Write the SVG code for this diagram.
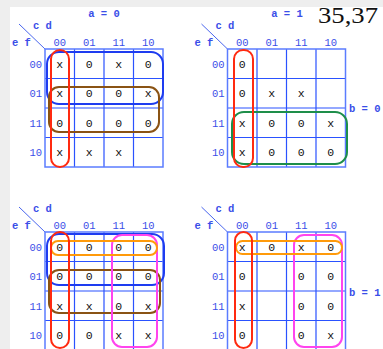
<svg xmlns="http://www.w3.org/2000/svg" width="383" height="349" viewBox="0 0 383 349">
<style>
.hd{font-family:"Liberation Mono",monospace;font-size:10.5px;fill:#3a4ee8;font-weight:bold}
.lb{font-family:"Liberation Mono",monospace;font-size:10.5px;fill:#3a4ee8}
.v{font-family:"Liberation Mono",monospace;font-size:11.5px;fill:#111;text-anchor:middle}
.grid{fill:none;stroke:#2a52ff;stroke-width:1.2}
.outer{fill:none;stroke:#5b7cff;stroke-width:1.5}
.loop{fill:none;stroke-width:2}
.red{stroke:#ff2a10}.blue{stroke:#1e3cf0}.brown{stroke:#8a5314}.green{stroke:#1e8e4a}.orange{stroke:#ff9a0a}.mag{stroke:#ff44ee}
</style>
<defs>
<g id="frame">
<line x1="0" y1="0" x2="-26" y2="-25" stroke="#4a66ee" stroke-width="1"/>
<text class="hd" x="-12" y="-20">c d</text>
<text class="hd" x="-33" y="-3">e f</text>
<g class="lb" text-anchor="middle">
<text x="14.75" y="-3">00</text><text x="44.25" y="-3">01</text><text x="73.75" y="-3">11</text><text x="103.25" y="-3">10</text>
</g>
<g class="lb" text-anchor="end">
<text x="-3" y="18.5">00</text><text x="-3" y="48">01</text><text x="-3" y="77.5">11</text><text x="-3" y="107">10</text>
</g>
<path class="grid" d="M29.5 0V118M59 0V118M88.5 0V118M0 29.5H118M0 59H118M0 88.5H118"/>
<rect class="outer" x="0" y="0" width="118" height="118"/>
</g>
</defs>
<rect width="383" height="349" fill="#fff"/>
<rect x="0" y="0" width="383" height="7" fill="#eeeeee"/>
<rect x="0" y="0" width="10" height="349" fill="#eeeeee"/>
<text class="hd" x="104" y="17" text-anchor="middle">a = 0</text>
<text class="hd" x="287" y="17" text-anchor="middle">a = 1</text>
<text x="318" y="22.5" font-family="Liberation Serif,serif" font-size="24" fill="#111" textLength="60" lengthAdjust="spacingAndGlyphs">35,37</text>
<text class="hd" x="349" y="112">b = 0</text>
<text class="hd" x="349" y="296">b = 1</text>

<g id="map-a0-b0" transform="translate(45,49)">
<use href="#frame"/>
<g class="v">
<text x="14.75" y="18.5">x</text><text x="44.25" y="18.5">0</text><text x="73.75" y="18.5">x</text><text x="103.25" y="18.5">0</text>
<text x="14.75" y="48">x</text><text x="44.25" y="48">0</text><text x="73.75" y="48">0</text><text x="103.25" y="48">x</text>
<text x="14.75" y="77.5">0</text><text x="44.25" y="77.5">0</text><text x="73.75" y="77.5">0</text><text x="103.25" y="77.5">0</text>
<text x="14.75" y="107">x</text><text x="44.25" y="107">x</text><text x="73.75" y="107">x</text>
</g>
<g id="loops-a0-b0">
<rect class="loop blue" x="2" y="3" width="116" height="52" rx="12"/>
<rect class="loop brown" x="4" y="38" width="110" height="45" rx="10"/>
<rect class="loop red" x="6" y="1" width="18" height="117" rx="9"/>
</g>
</g>

<g id="map-a1-b0" transform="translate(227.5,49)">
<use href="#frame"/>
<g class="v">
<text x="14.75" y="18.5">0</text>
<text x="14.75" y="48">0</text><text x="44.25" y="48">x</text><text x="73.75" y="48">x</text>
<text x="14.75" y="77.5">x</text><text x="44.25" y="77.5">0</text><text x="73.75" y="77.5">0</text><text x="103.25" y="77.5">x</text>
<text x="14.75" y="107">x</text><text x="44.25" y="107">0</text><text x="73.75" y="107">0</text><text x="103.25" y="107">0</text>
</g>
<g id="loops-a1-b0">
<rect class="loop green" x="4.5" y="63" width="115" height="52" rx="12"/>
<rect class="loop red" x="6.5" y="1" width="19" height="117" rx="9"/>
</g>
</g>

<g id="map-a0-b1" transform="translate(45,232)">
<use href="#frame"/>
<g class="v">
<text x="14.75" y="18.5">0</text><text x="44.25" y="18.5">0</text><text x="73.75" y="18.5">0</text><text x="103.25" y="18.5">0</text>
<text x="14.75" y="48">0</text><text x="44.25" y="48">0</text><text x="73.75" y="48">0</text><text x="103.25" y="48">0</text>
<text x="14.75" y="77.5">x</text><text x="44.25" y="77.5">x</text><text x="73.75" y="77.5">0</text><text x="103.25" y="77.5">x</text>
<text x="14.75" y="107">0</text><text x="44.25" y="107">0</text><text x="73.75" y="107">x</text><text x="103.25" y="107">x</text>
</g>
<g id="loops-a0-b1">
<rect class="loop blue" x="2" y="2" width="117" height="51" rx="12"/>
<rect class="loop brown" x="4" y="38" width="111" height="43" rx="10"/>
<rect class="loop mag" x="67" y="3" width="45" height="112" rx="10"/>
<rect class="loop orange" x="6" y="9" width="106" height="14" rx="7"/>
<rect class="loop red" x="6" y="0" width="18" height="116" rx="9"/>
</g>
</g>

<g id="map-a1-b1" transform="translate(227.5,232)">
<use href="#frame"/>
<g class="v">
<text x="14.75" y="18.5">x</text><text x="44.25" y="18.5">0</text><text x="73.75" y="18.5">x</text><text x="103.25" y="18.5">0</text>
<text x="14.75" y="48">0</text><text x="73.75" y="48">0</text><text x="103.25" y="48">0</text>
<text x="14.75" y="77.5">x</text><text x="73.75" y="77.5">0</text><text x="103.25" y="77.5">0</text>
<text x="14.75" y="107">0</text><text x="73.75" y="107">0</text><text x="103.25" y="107">x</text>
</g>
<g id="loops-a1-b1">
<rect class="loop mag" x="66.5" y="3" width="48" height="112" rx="10"/>
<rect class="loop orange" x="8.5" y="9" width="106" height="13" rx="6.5"/>
<rect class="loop red" x="7.5" y="0" width="17" height="116" rx="8.5"/>
</g>
</g>
</svg>
